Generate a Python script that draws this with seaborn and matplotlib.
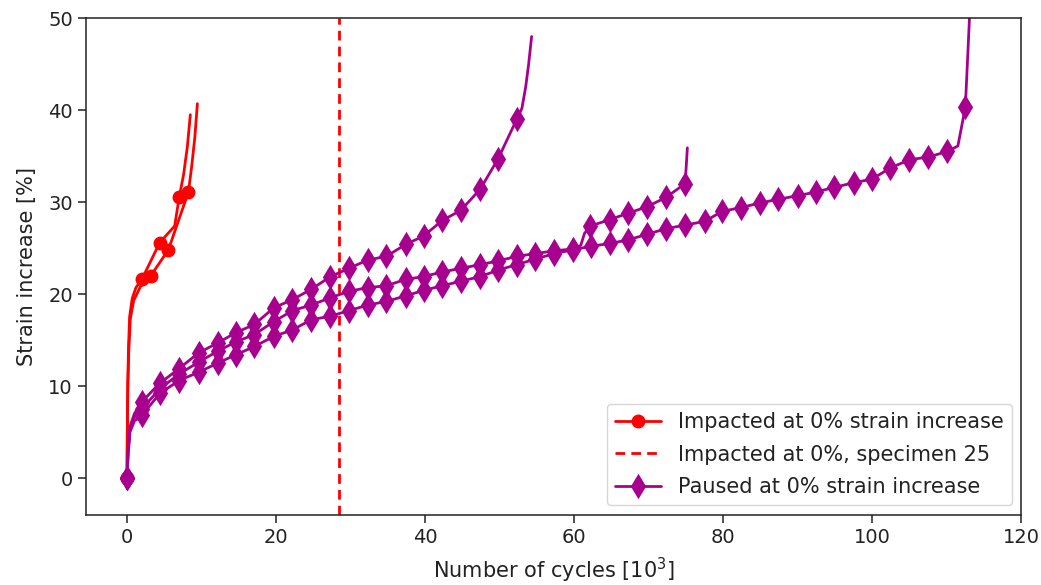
import matplotlib
matplotlib.use("Agg")
import matplotlib.pyplot as plt
from matplotlib.lines import Line2D
import seaborn as sns
import pandas as pd

# Impacted specimens (strain increase [%] vs. cycles [10^3])
red_a_x = [0, 0.05, 0.1, 0.2, 0.35, 0.7, 1.2, 2.0, 4.4, 6.4, 7.0, 7.6, 8.1, 8.5]
red_a_y = [0, 5, 10, 14, 17.5, 19.5, 20.7, 21.6, 25.6, 27.4, 30.5, 33.0, 36.0, 39.5]
red_a_marks = [0, 7, 8, 10]

red_b_x = [0, 0.05, 0.12, 0.25, 0.45, 0.9, 1.8, 3.2, 5.55, 8.25, 8.7, 9.1, 9.45]
red_b_y = [0, 5, 10, 14, 17.3, 19.3, 20.8, 22.0, 24.8, 31.1, 34.0, 37.0, 40.7]
red_b_marks = [0, 7, 8, 9]

# Specimen 25 failure point
specimen25_x = 28.4

# Paused specimens
mag_a_x = [0, 0.15, 0.4, 1.0, 2.0, 4.4, 7.0, 9.6, 12.2, 14.6, 17.1, 19.7, 22.2, 24.7,
           27.3, 29.8, 32.3, 34.8, 37.4, 39.8, 42.3, 44.8, 47.4, 49.8, 52.3,
           53.0, 53.5, 53.9, 54.3]
mag_a_y = [0, 3.0, 5.6, 7.0, 8.3, 10.3, 11.9, 13.6, 14.7, 15.8, 16.7, 18.5, 19.4, 20.5,
           21.9, 22.8, 23.7, 24.1, 25.4, 26.3, 28.0, 29.1, 31.4, 34.7, 39.0,
           40.2, 42.5, 45.0, 48.0]
mag_a_marks = [0] + list(range(4, 25))

mag_b_x = [0, 0.15, 0.4, 1.0, 2.0, 4.4, 7.0, 9.6, 12.2, 14.6, 17.1, 19.7, 22.2, 24.7,
           27.3, 29.8, 32.3, 34.8, 37.4, 39.8, 42.3, 44.8, 47.4, 49.8, 52.3, 54.8,
           57.3, 59.8, 60.9, 61.4, 62.2, 64.8, 67.3, 69.8, 72.3, 74.9, 75.2]
mag_b_y = [0, 2.8, 5.3, 6.6, 7.5, 9.7, 11.3, 12.6, 13.8, 14.8, 15.6, 17.0, 18.2, 18.8,
           19.6, 20.3, 20.7, 20.9, 21.6, 21.9, 22.4, 22.8, 23.2, 23.6, 24.1, 24.4,
           24.7, 24.9, 25.3, 26.6, 27.4, 28.1, 28.8, 29.5, 30.5, 32.0, 35.9]
mag_b_marks = [0] + list(range(4, 28)) + list(range(30, 36))

mag_c_x = [0, 0.15, 0.4, 1.0, 2.0, 4.4, 7.0, 9.6, 12.2, 14.6, 17.1, 19.7, 22.2, 24.7,
           27.3, 29.8, 32.3, 34.8, 37.4, 39.8, 42.3, 44.8, 47.4, 49.8, 52.3, 54.8,
           57.3, 59.8, 62.3, 64.8, 67.3, 69.8, 72.3, 74.9, 77.5, 79.9, 82.4, 84.9,
           87.4, 90.0, 92.5, 94.9, 97.5, 100.0, 102.4, 105.0, 107.5, 110.1, 111.5,
           112.5, 113.4]
mag_c_y = [0, 2.5, 5.0, 6.2, 6.8, 9.2, 10.6, 11.5, 12.5, 13.4, 14.3, 15.4, 16.1, 17.2,
           17.6, 18.2, 18.8, 19.2, 19.8, 20.4, 20.9, 21.4, 21.9, 22.6, 23.2, 23.8,
           24.4, 24.8, 25.2, 25.5, 25.9, 26.5, 27.1, 27.5, 27.9, 29.0, 29.4, 29.9,
           30.3, 30.7, 31.1, 31.6, 32.1, 32.5, 33.7, 34.6, 34.9, 35.5, 36.1,
           40.3, 56.0]
mag_c_marks = [0] + list(range(4, 48)) + [49]

legend_labels = ["Impacted at 0% strain increase",
                 "Impacted at 0%, specimen 25",
                 "Paused at 0% strain increase"]

RED = "#ff0000"
MAG = "#a8008e"
TXT = "#222222"
TICK_FS = 14
LABEL_FS = 15
LEG_FS = 15

sns.set_theme(style="ticks")
plt.rcParams["font.family"] = ["DejaVu Sans"]
plt.rcParams["axes.edgecolor"] = TXT
plt.rcParams["axes.linewidth"] = 1.1

fig, ax = plt.subplots(figsize=(10.41, 5.85), dpi=100)
fig.subplots_adjust(left=0.0826, right=0.981, top=0.969, bottom=0.12)

red_curves = [(red_a_x, red_a_y, red_a_marks), (red_b_x, red_b_y, red_b_marks)]
mag_curves = [(mag_a_x, mag_a_y, mag_a_marks), (mag_b_x, mag_b_y, mag_b_marks),
              (mag_c_x, mag_c_y, mag_c_marks)]

for xs, ys, marks in red_curves:
    df = pd.DataFrame({"cycles": xs, "strain": ys})
    sns.lineplot(data=df, x="cycles", y="strain", ax=ax, sort=False, estimator=None,
                 color=RED, lw=2.0, marker="o", ms=9, markevery=marks,
                 markeredgecolor=RED, markeredgewidth=1.0)

ax.axvline(specimen25_x, color=RED, ls="--", lw=2.0, dashes=(3.5, 2.2))

for xs, ys, marks in mag_curves:
    df = pd.DataFrame({"cycles": xs, "strain": ys})
    sns.lineplot(data=df, x="cycles", y="strain", ax=ax, sort=False, estimator=None,
                 color=MAG, lw=2.0, marker="d", ms=10, markevery=marks,
                 markeredgecolor=MAG, markeredgewidth=2.0)

ax.set_xlim(-5.5, 120)
ax.set_ylim(-4, 50)
ax.set_xticks([0, 20, 40, 60, 80, 100, 120])
ax.set_yticks([0, 10, 20, 30, 40, 50])
ax.tick_params(labelsize=TICK_FS, length=6, width=1.1, colors=TXT, direction="out")
for s in ax.spines.values():
    s.set_visible(True)

ax.set_xlabel(r"Number of cycles [$10^3$]", fontsize=LABEL_FS, color=TXT, labelpad=6)
ax.set_ylabel("Strain increase [%]", fontsize=LABEL_FS, color=TXT, labelpad=8)

handles = [
    Line2D([], [], color=RED, lw=2.0, marker="o", ms=9),
    Line2D([], [], color=RED, lw=2.0, ls="--", dashes=(3.5, 2.2)),
    Line2D([], [], color=MAG, lw=2.0, marker="d", ms=10, mew=2.0),
]
leg = ax.legend(handles, legend_labels, loc="lower right", fontsize=LEG_FS,
                frameon=True, fancybox=True, framealpha=0.8, edgecolor="#cccccc",
                handlelength=2.2, borderaxespad=0.45, labelspacing=0.6)
for t in leg.get_texts():
    t.set_color(TXT)

fig.savefig("out.png", dpi=100)
